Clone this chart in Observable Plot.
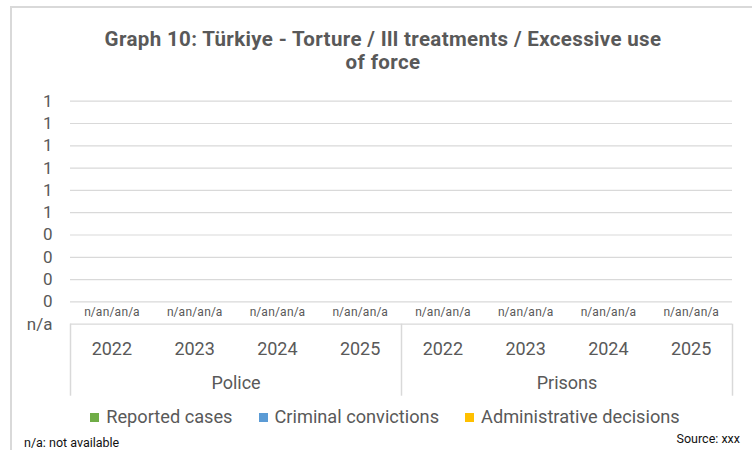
<!DOCTYPE html>
<html>
<head>
<meta charset="utf-8">
<script src="https://cdn.jsdelivr.net/npm/d3@7"></script>
<script src="https://cdn.jsdelivr.net/npm/@observablehq/plot@0.6"></script>
<style>
  body { margin: 0; background: #fff; overflow: hidden; }
  #wrap { position: relative; width: 752px; height: 450px; overflow: hidden; font-family: Roboto, sans-serif; background: #fff; }
  #border { position: absolute; left: 10px; top: 6px; width: 800px; height: 520px; border: 2px solid #d9d9d9; box-sizing: border-box; }
  #chart { position: absolute; left: 0; top: 0; }
  #title { position: absolute; left: 7px; top: 28px; width: 752px; text-align: center; font-weight: bold; font-size: 20.5px; letter-spacing: 0.35px; line-height: 23px; color: #595959; }
  #legend { position: absolute; left: 0; top: 407px; width: 770px; display: flex; justify-content: center; gap: 26px; font-size: 18.2px; line-height: 20px; color: #595959; }
  #legend .item { display: flex; align-items: center; }
  #legend .sw { width: 9px; height: 9px; margin-right: 7px; }
  #note { position: absolute; left: 24px; top: 435px; font-size: 12.5px; line-height: 16px; color: #111; }
  #source { position: absolute; right: 12px; top: 431px; font-size: 12.5px; line-height: 16px; color: #111; }
</style>
</head>
<body>
<div id="wrap">
  <div id="border"></div>
  <div id="chart"></div>
  <div id="title"></div>
  <div id="legend"></div>
  <div id="note"></div>
  <div id="source"></div>
</div>
<script>
// ---- data ----
const titleLines = ["Graph 10: Türkiye - Torture / Ill treatments / Excessive use", "of force"];
const groups = ["Police", "Prisons"];
const years = ["2022", "2023", "2024", "2025"];
const seriesNames = ["Reported cases", "Criminal convictions", "Administrative decisions"];
const seriesColors = ["#70ad47", "#5b9bd5", "#ffc000"];
// values per category (Police 2022..2025, Prisons 2022..2025); null = not available
const reportedCases = [null, null, null, null, null, null, null, null];
const criminalConvictions = [null, null, null, null, null, null, null, null];
const administrativeDecisions = [null, null, null, null, null, null, null, null];
const naLabel = "n/a";
const yTicks = [0, 0.1, 0.2, 0.3, 0.4, 0.5, 0.6, 0.7, 0.8, 0.9, 1];
const yTickLabels = ["n/a", "0", "0", "0", "0", "1", "1", "1", "1", "1", "1"];
const noteText = "n/a: not available";
const sourceText = "Source: xxx";

// ---- build table ----
const seriesValues = [reportedCases, criminalConvictions, administrativeDecisions];
const categories = [];
groups.forEach((g, gi) => years.forEach((y, yi) => categories.push({group: g, year: y, cat: gi * years.length + yi})));
const rows = [];
categories.forEach(c => seriesValues.forEach((vals, si) => {
  const v = vals[c.cat];
  rows.push({...c, series: seriesNames[si], si, value: v, label: v == null ? naLabel : String(v)});
}));
const groupInfo = groups.map((g, gi) => ({group: g, mid: gi * years.length + years.length / 2}));
const groupEdges = d3.range(groups.length + 1).map(i => i * years.length);
const nCats = categories.length;
const barW = 0.226; // fraction of a category per series bar

const textColor = "#595959";
const gridColor = "#d9d9d9";

const plot = Plot.plot({
  width: 752,
  height: 410,
  marginLeft: 70,
  marginRight: 20,
  marginTop: 100.7,
  marginBottom: 86.3,
  style: {fontFamily: "Roboto, sans-serif", fontSize: "17px", color: textColor, background: "transparent"},
  x: {domain: [0, nCats], axis: null},
  y: {domain: [0, 1]},
  color: {domain: seriesNames, range: seriesColors},
  marks: [
    Plot.gridY(yTicks, {stroke: gridColor, strokeOpacity: 1, strokeWidth: 1.2}),
    Plot.axisY(yTicks, {tickSize: 0, tickPadding: 18, tickFormat: d => yTickLabels[yTicks.indexOf(d)], fontSize: 17, fill: textColor, label: null}),
    Plot.rectY(rows, {
      x1: d => d.cat + 0.5 + (d.si - 1.5) * barW,
      x2: d => d.cat + 0.5 + (d.si - 0.5) * barW,
      y1: 0,
      y2: d => d.value ?? 0,
      fill: "series"
    }),
    Plot.text(rows, {
      x: d => d.cat + 0.5 + (d.si - 1) * barW,
      y: d => d.value ?? 0,
      text: "label",
      dy: -12,
      fontSize: 12,
      fill: textColor
    }),
    Plot.ruleX(groupEdges, {x: d => d, y1: 0, y2: 0, insetBottom: -72, stroke: gridColor, strokeWidth: 1.5}),
    Plot.text(categories, {x: d => d.cat + 0.5, y: 0, text: "year", dy: 25.5, fontSize: 18, fill: textColor}),
    Plot.text(groupInfo, {x: "mid", y: 0, text: "group", dy: 59.5, fontSize: 18, fill: textColor})
  ]
});
document.getElementById("chart").appendChild(plot);

document.getElementById("title").innerHTML = titleLines.join("<br>");
const legend = document.getElementById("legend");
seriesNames.forEach((s, i) => {
  const item = document.createElement("div");
  item.className = "item";
  const sw = document.createElement("span");
  sw.className = "sw";
  sw.style.background = seriesColors[i];
  const t = document.createElement("span");
  t.textContent = s;
  item.appendChild(sw); item.appendChild(t);
  legend.appendChild(item);
});
document.getElementById("note").textContent = noteText;
document.getElementById("source").textContent = sourceText;
</script>
</body>
</html>
